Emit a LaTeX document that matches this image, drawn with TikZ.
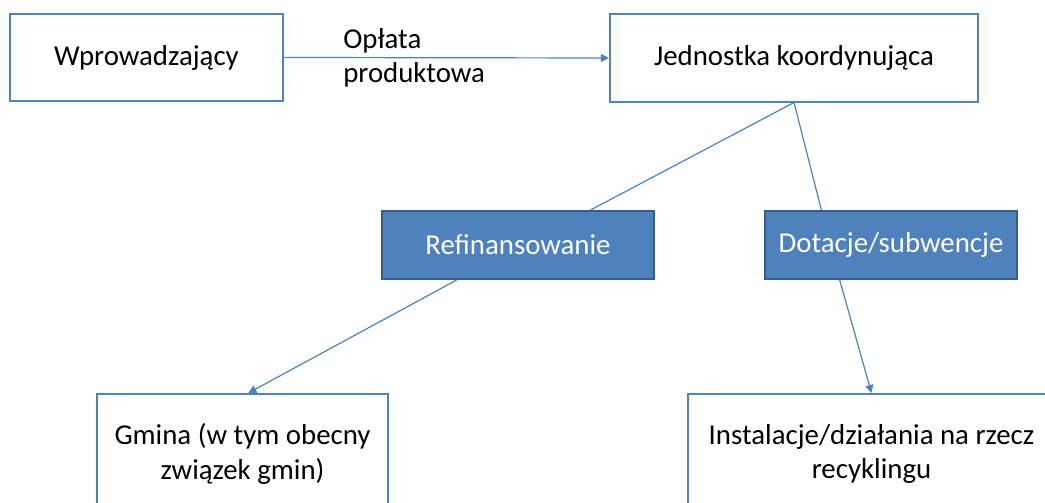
\documentclass[tikz,border=0pt]{standalone}
\usepackage{fontspec}
\setmainfont{Carlito}
\usetikzlibrary{arrows.meta,calc}
\definecolor{boxblue}{HTML}{4F81BD}
\definecolor{boxedge}{HTML}{385D8A}
\begin{document}
\begin{tikzpicture}[x=0.025cm, y=-0.025cm,
        txt/.style={font=\fontsize{20.5}{24.5}\selectfont},
        box/.style={txt, draw=boxblue, line width=0.05cm, fill=white, align=center, inner sep=0pt},
        tag/.style={txt, draw=boxedge, line width=0.05cm, fill=boxblue, text=white, inner sep=0pt},
        link/.style={draw=boxblue, line width=0.03cm},
        flow/.style={link, -{Triangle[length=0.2cm, width=0.2cm]}}]
        \useasboundingbox (0,0) rectangle (1045,503);
        \clip (0,0) rectangle (1045,503);
        \node[box, minimum width=6.825cm, minimum height=2.15cm] (wpr) at (146.5,57.5) {Wprowadzający};
        \node[box, minimum width=9.2cm, minimum height=2.175cm] (jedn) at (794,58) {Jednostka koordynująca};
        \node[tag, minimum width=6.8cm, minimum height=1.7cm] (refin) at (518,245) {Refinansowanie};
        \node[tag, minimum width=6.3cm, minimum height=1.7cm] (dot) at (891,245) {Dotacje/subwencje};
        \node[box, minimum width=7.275cm, minimum height=3cm] (gmina) at (242.5,454) {Gmina (w tym obecny\\związek gmin)};
        \node[box, minimum width=9.175cm, minimum height=3cm] (inst) at (871.5,454) {Instalacje/działania na rzecz\\recyklingu};
        \node[txt, anchor=west, align=left, inner sep=0pt] (fee) at (343,58) {Opłata\\produktowa};
        \draw[flow] (wpr.east) -- (jedn.west);
        \draw[link] (jedn.south) -- ($(refin.north west)!0.765!(refin.north east)$);
        \draw[link] (jedn.south) -- ($(dot.north west)!0.226!(dot.north east)$);
        \draw[flow] ($(refin.south west)!0.276!(refin.south east)$) -- ($(gmina.north west)!0.52!(gmina.north east)$);
        \draw[flow] ($(dot.south west)!0.298!(dot.south east)$) -- (inst.north);
    \end{tikzpicture}
\end{document}
